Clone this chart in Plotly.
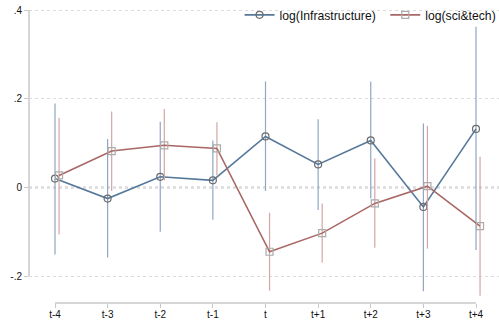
import plotly.graph_objects as go

# Event-time periods
periods = ["t-4", "t-3", "t-2", "t-1", "t", "t+1", "t+2", "t+3", "t+4"]

# log(Infrastructure): point estimates and confidence bounds
infra_coef = [0.020, -0.025, 0.024, 0.016, 0.115, 0.052, 0.106, -0.044, 0.132]
infra_hi = [0.189, 0.109, 0.148, 0.106, 0.239, 0.154, 0.239, 0.144, 0.362]
infra_lo = [-0.151, -0.158, -0.100, -0.073, -0.008, -0.051, -0.025, -0.234, -0.141]

# log(sci&tech): point estimates and confidence bounds
sci_coef = [0.027, 0.082, 0.095, 0.088, -0.145, -0.103, -0.036, 0.003, -0.087]
sci_hi = [0.157, 0.171, 0.177, 0.147, -0.057, -0.036, 0.065, 0.139, 0.069]
sci_lo = [-0.106, -0.008, 0.016, 0.027, -0.233, -0.169, -0.136, -0.138, -0.244]

# y-axis ticks
y_ticks = [-0.2, 0, 0.2, 0.4]
y_ticktext = ["-.2", "0", ".2", ".4"]

shift = 0.077  # horizontal dodge for the second series
x_base = list(range(len(periods)))
x_sci = [x + shift for x in x_base]

BLUE = "#56789b"
BLUE_CI = "#8ea6c3"
RED = "#a86765"
RED_CI = "#d3a6a5"

fig = go.Figure()

fig.add_trace(go.Scatter(
    x=x_base, y=infra_coef, mode="lines+markers",
    name="log(Infrastructure)", legend="legend",
    line=dict(color=BLUE, width=1.6),
    marker=dict(symbol="circle-open", size=7, color="#6b6b6b", line=dict(width=1.2)),
    error_y=dict(type="data", symmetric=False,
                 array=[h - c for h, c in zip(infra_hi, infra_coef)],
                 arrayminus=[c - l for c, l in zip(infra_coef, infra_lo)],
                 color=BLUE_CI, thickness=1.2, width=0),
))

fig.add_trace(go.Scatter(
    x=x_sci, y=sci_coef, mode="lines+markers",
    name="log(sci&tech)", legend="legend2",
    line=dict(color=RED, width=1.6),
    marker=dict(symbol="square-open", size=7, color="#ababab", line=dict(width=1.2)),
    error_y=dict(type="data", symmetric=False,
                 array=[h - c for h, c in zip(sci_hi, sci_coef)],
                 arrayminus=[c - l for c, l in zip(sci_coef, sci_lo)],
                 color=RED_CI, thickness=1.2, width=0),
))

# Reference line at zero
fig.add_shape(type="line", xref="paper", yref="y", x0=0, x1=1, y0=0, y1=0,
              line=dict(color="#8f8f8f", width=1.5, dash="3px,3px"), layer="below")
# Y-axis spine spanning the tick range
fig.add_shape(type="line", xref="paper", yref="y", x0=0, x1=0,
              y0=min(y_ticks), y1=max(y_ticks),
              line=dict(color="#c8c8c8", width=1.5))
# X-axis spine spanning the periods
fig.add_shape(type="line", xref="x", yref="paper", x0=x_base[0], x1=x_base[-1],
              y0=0, y1=0, line=dict(color="#c8c8c8", width=1.5))

legend_style = dict(orientation="h", y=0.967, yanchor="middle", xanchor="left",
                    font=dict(size=12.2), bgcolor="rgba(0,0,0,0)", itemwidth=30)

fig.update_layout(
    width=499, height=321,
    margin=dict(l=29, r=0, t=5, b=18, autoexpand=False),
    paper_bgcolor="white", plot_bgcolor="white",
    font=dict(family="Liberation Sans, Arial, sans-serif", color="#111111", size=10),
    showlegend=True,
    legend=dict(x=0.448, **legend_style),
    legend2=dict(x=0.758, **legend_style),
    xaxis=dict(range=[-0.494, 8.437], tickmode="array", tickvals=x_base,
               ticktext=periods, showgrid=False, zeroline=False, showline=False,
               ticks="outside", ticklen=4, tickcolor="#c8c8c8", tickwidth=1.2,
               ticklabelstandoff=-2, tickfont=dict(size=10)),
    yaxis=dict(range=[-0.2605, 0.4113], tickmode="array", tickvals=y_ticks,
               ticktext=y_ticktext, showgrid=True, gridcolor="#dcdcdc",
               griddash="dot", gridwidth=1, zeroline=False, showline=False,
               ticks="outside", ticklen=4, tickcolor="#c8c8c8", tickwidth=1.2,
               tickfont=dict(size=10)),
)

fig.write_html("out.html")
